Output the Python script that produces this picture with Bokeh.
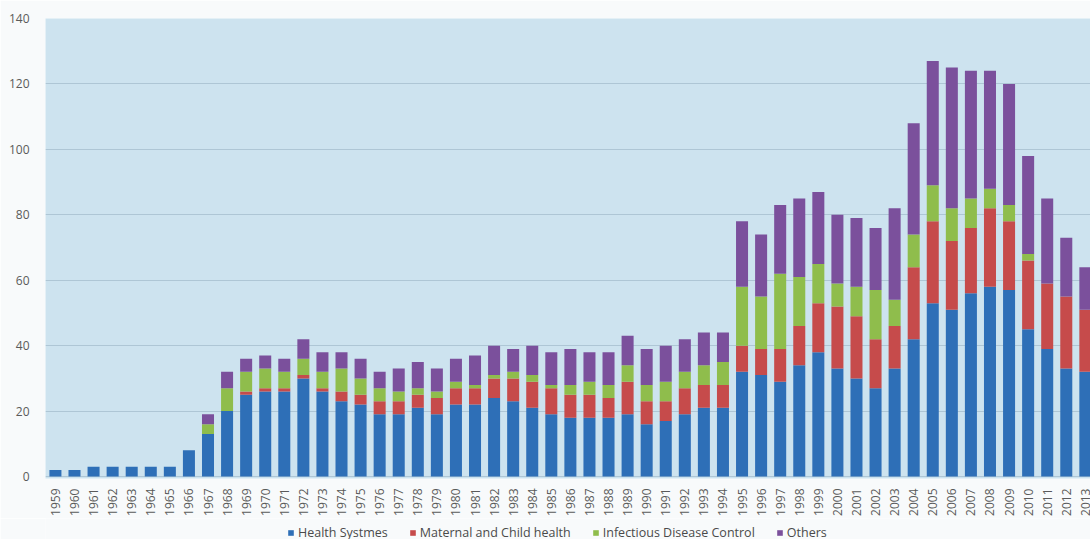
import math
from bokeh.plotting import figure
from bokeh.layouts import column
from bokeh.models import ColumnDataSource, FixedTicker, Legend, LegendItem, Range1d
from bokeh.embed import file_html
from bokeh.resources import INLINE

# Projects per year by thematic area
years = list(range(1959, 2014))

health_systems = [2, 2, 3, 3, 3, 3, 3, 8, 13, 20, 25, 26, 26, 30, 26, 23, 22, 19, 19, 21,
                  19, 22, 22, 24, 23, 21, 19, 18, 18, 18, 19, 16, 17, 19, 21, 21, 32, 31, 29, 34,
                  38, 33, 30, 27, 33, 42, 53, 51, 56, 58, 57, 45, 39, 33, 32]
maternal_child = [0, 0, 0, 0, 0, 0, 0, 0, 0, 0, 1, 1, 1, 1, 1, 3, 3, 4, 4, 4,
                  5, 5, 5, 6, 7, 8, 8, 7, 7, 6, 10, 7, 6, 8, 7, 7, 8, 8, 10, 12,
                  15, 19, 19, 15, 13, 22, 25, 21, 20, 24, 21, 21, 20, 22, 19]
infectious = [0, 0, 0, 0, 0, 0, 0, 0, 3, 7, 6, 6, 5, 5, 5, 7, 5, 4, 3, 2,
              2, 2, 1, 1, 2, 2, 1, 3, 4, 4, 5, 5, 6, 5, 6, 7, 18, 16, 23, 15,
              12, 7, 9, 15, 8, 10, 11, 10, 9, 6, 5, 2, 0, 0, 0]
others = [0, 0, 0, 0, 0, 0, 0, 0, 3, 5, 4, 4, 4, 6, 6, 5, 6, 5, 7, 8,
          7, 7, 9, 9, 7, 9, 10, 11, 9, 10, 9, 11, 11, 10, 10, 9, 20, 19, 21, 24,
          22, 21, 21, 19, 28, 34, 38, 43, 39, 36, 37, 30, 26, 18, 13]

series_names = ["Health Systmes", "Maternal and Child health",
                "Infectious Disease Control", "Others"]
y_ticks = [0, 20, 40, 60, 80, 100, 120, 140]

keys = ["hs", "mch", "idc", "oth"]
colors = ["#2e6fb7", "#c64b4b", "#8fbd4c", "#7b509c"]

source = ColumnDataSource(dict(year=years, hs=health_systems, mch=maternal_child,
                               idc=infectious, oth=others))

FONT = "Open Sans"
PAGE = "#f8fafb"

chart = figure(width=1090, height=518, output_backend="svg", toolbar_location=None,
               x_range=Range1d(1958.48, 2013.27), y_range=Range1d(-0.6, 140),
               min_border_left=45, min_border_right=0, min_border_top=18,
               min_border_bottom=35)

chart.background_fill_color = "#cde3ef"
chart.border_fill_color = PAGE
chart.outline_line_color = None

chart.vbar_stack(keys, x="year", width=0.63, color=colors,
                 line_color=None, source=source)

# Gridlines
chart.xgrid.grid_line_color = None
chart.ygrid.grid_line_color = "#aec6d5"
chart.ygrid.grid_line_width = 1
chart.ygrid.ticker = FixedTicker(ticks=y_ticks)

# Y axis
chart.yaxis.ticker = FixedTicker(ticks=y_ticks)
chart.yaxis.axis_line_color = None
chart.yaxis.major_tick_line_color = None
chart.yaxis.minor_tick_line_color = None
chart.yaxis.major_label_standoff = 10
chart.yaxis.major_label_text_font = FONT
chart.yaxis.major_label_text_font_size = "12px"
chart.yaxis.major_label_text_color = "#5a5a5a"

# X axis with vertical year labels
chart.xaxis.ticker = FixedTicker(ticks=years)
chart.xaxis.major_label_overrides = {y: str(y) for y in years}
chart.xaxis.major_label_orientation = math.pi / 2
chart.xaxis.axis_line_color = None
chart.xaxis.major_tick_line_color = None
chart.xaxis.minor_tick_line_color = None
chart.xaxis.major_label_standoff = 4
chart.xaxis.major_label_text_font = FONT
chart.xaxis.major_label_text_font_size = "12px"
chart.xaxis.major_label_text_color = "#5a5a5a"

# Legend strip below the chart; swatch glyphs sit outside the strip's visible range
key = figure(width=1090, height=26, output_backend="svg", toolbar_location=None,
             x_range=Range1d(0, 1), y_range=Range1d(0, 1),
             x_axis_type=None, y_axis_type=None,
             min_border_left=0, min_border_right=0, min_border_top=0,
             min_border_bottom=0)
key.background_fill_color = PAGE
key.border_fill_color = PAGE
key.outline_line_color = None
key.xgrid.visible = False
key.ygrid.visible = False

swatches = [key.vbar(x=[5], top=[6], bottom=[5], width=0.1, color=c, line_color=None)
            for c in colors]
legend = Legend(items=[LegendItem(label=n, renderers=[r])
                       for n, r in zip(series_names, swatches)],
                orientation="horizontal", location=(242, 3))
legend.background_fill_alpha = 0
legend.border_line_color = None
legend.glyph_width = 7
legend.glyph_height = 7
legend.label_text_font = FONT
legend.label_text_font_size = "12.5px"
legend.label_text_color = "#4a4a4a"
legend.label_standoff = 4
legend.spacing = 21
legend.margin = 0
legend.padding = 0
key.add_layout(legend, "center")

page = column(chart, key, spacing=0)

open("out.html", "w").write(file_html(page, INLINE))
